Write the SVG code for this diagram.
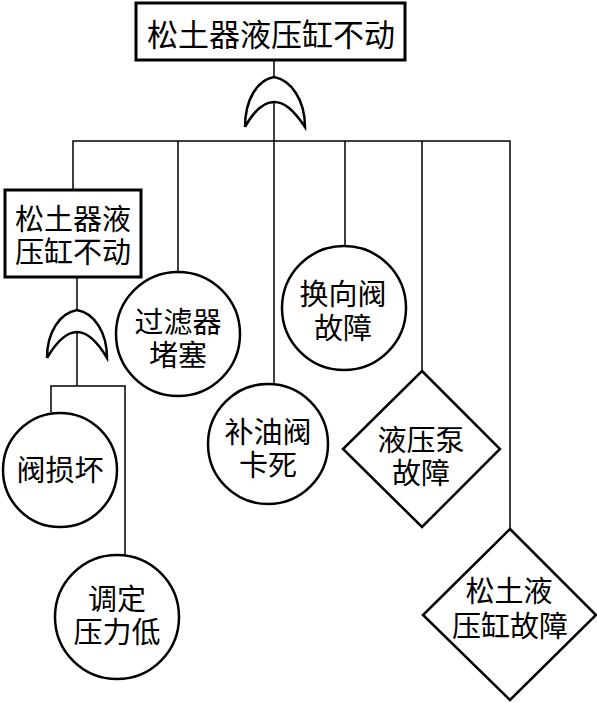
<svg xmlns="http://www.w3.org/2000/svg" width="597" height="703" viewBox="0 0 597 703">
<style>
.t{font-family:"Liberation Serif","Noto Sans CJK SC","Noto Sans CJK JP",sans-serif;font-size:29px;fill:#000;text-anchor:middle}
.box{fill:#fff;stroke:#000;stroke-width:3}
.ev{fill:#fff;stroke:#000;stroke-width:2.5}
.gate{fill:none;stroke:#000;stroke-width:2.5}
.ln{fill:none;stroke:#000;stroke-width:1.5}
</style>
<rect width="597" height="703" fill="#fff"/>
<g id="connectors">
<line class="ln" x1="274" y1="60" x2="274" y2="77"/>
<line class="ln" x1="274" y1="102" x2="274" y2="384"/>
<polyline class="ln" points="73,190 73,141 510,141 510,529"/>
<line class="ln" x1="178" y1="141" x2="178" y2="272"/>
<line class="ln" x1="345" y1="141" x2="345" y2="246"/>
<line class="ln" x1="422" y1="141" x2="422" y2="371"/>
<line class="ln" x1="77" y1="277" x2="77" y2="310"/>
<line class="ln" x1="77" y1="332" x2="77" y2="386"/>
<polyline class="ln" points="51,412 51,386 125,386 125,556"/>
</g>
<g id="gate1">
<path class="gate" d="M245,127 C245,100 257,80 274,77 C291,80 305,100 305,127 C293,109 284,102 274,102 C264,102 255,109 245,127"/>
</g>
<g id="gate2">
<path class="gate" d="M47,358 C47,332 60,313 77,310 C94,313 107,332 107,358 C97,341 87,332 77,332 C67,332 57,341 47,358"/>
</g>
<g id="top">
<rect class="box" x="136" y="3" width="269" height="57"/>
<text class="t" x="271" y="46" style="font-size:31px">松土器液压缸不动</text>
</g>
<g id="sub">
<rect class="box" x="5" y="190" width="136" height="87"/>
<text class="t" x="73" y="230">松土器液<tspan x="73" dy="33">压缸不动</tspan></text>
</g>
<g id="n_guolv">
<circle class="ev" cx="178" cy="334" r="62"/>
<text class="t" x="178" y="333">过滤器<tspan x="178" dy="33">堵塞</tspan></text>
</g>
<g id="n_buyou">
<circle class="ev" cx="268" cy="444" r="60"/>
<text class="t" x="268" y="443">补油阀<tspan x="268" dy="33">卡死</tspan></text>
</g>
<g id="n_huanxiang">
<circle class="ev" cx="344" cy="308" r="62"/>
<text class="t" x="343" y="305">换向阀<tspan x="343" dy="34">故障</tspan></text>
</g>
<g id="n_beng">
<polygon class="ev" points="422,371 500,449 422,527 343,449"/>
<text class="t" x="421" y="451">液压泵<tspan x="421" dy="33">故障</tspan></text>
</g>
<g id="n_gang">
<polygon class="ev" points="510,529 596,615 510,700 423,615"/>
<text class="t" x="509" y="602">松土液<tspan x="510" dy="35">压缸故障</tspan></text>
</g>
<g id="n_fa">
<circle class="ev" cx="60" cy="470" r="57"/>
<text class="t" x="60" y="481">阀损坏</text>
</g>
<g id="n_tiaoding">
<circle class="ev" cx="117" cy="617" r="62"/>
<text class="t" x="117" y="610">调定<tspan x="117" dy="33">压力低</tspan></text>
</g>
</svg>
